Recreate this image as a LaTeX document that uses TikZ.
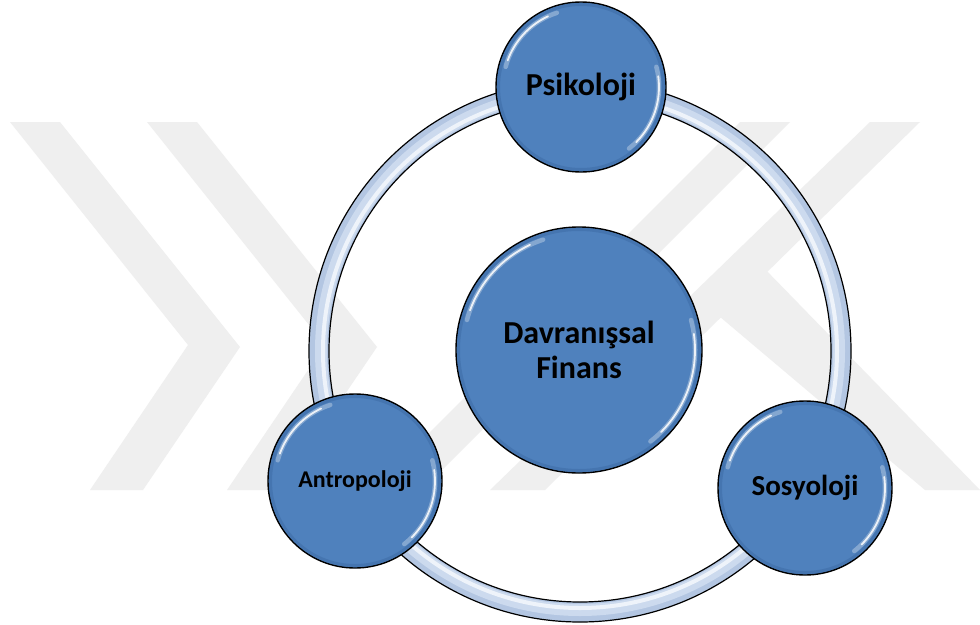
\documentclass[tikz,border=0pt]{standalone}
\usepackage{fontspec}
\setmainfont{Carlito}
\definecolor{ballblue}{HTML}{4F81BD}
\definecolor{ballrim}{HTML}{3E6CA6}
\definecolor{ringedge}{HTML}{B3C6E2}
\definecolor{ringmid}{HTML}{CCDAEE}
\definecolor{ringhi}{HTML}{EEF3FA}
\definecolor{wmgray}{HTML}{EFEFEF}
% soft highlight arcs on the inner rim of a bubble: #1 node, #2 radius (pt)
\newcommand\bubblegloss[2]{%
  \draw[ballrim, opacity=0.55, line width=3pt]
    (#1.center) circle[radius={(#2-2.5)*1pt}];
  \draw[white, opacity=0.30, line width=4.5pt, line cap=round]
    ([shift={(165:{(#2-7)*1pt})}]#1.center) arc[start angle=165, end angle=108, radius={(#2-7)*1pt}];
  \draw[white, opacity=0.85, line width=1.8pt, line cap=round]
    ([shift={(160:{(#2-7)*1pt})}]#1.center) arc[start angle=160, end angle=115, radius={(#2-7)*1pt}];
  \draw[white, opacity=0.30, line width=4.5pt, line cap=round]
    ([shift={(15:{(#2-7)*1pt})}]#1.center) arc[start angle=15, end angle=-52, radius={(#2-7)*1pt}];
  \draw[white, opacity=0.85, line width=1.8pt, line cap=round]
    ([shift={(8:{(#2-7)*1pt})}]#1.center) arc[start angle=8, end angle=-45, radius={(#2-7)*1pt}];
}
\begin{document}
\begin{tikzpicture}[x=1pt,y=-1pt,
  bubble/.style={circle, draw=black, line width=1.4pt, fill=ballblue,
    inner sep=0pt, align=center, text=black},
  outline/.style={draw=black, line width=1.2pt}]
\useasboundingbox[fill=white] (0,0) rectangle (980,624);

% faint background emblem
\fill[wmgray] (10,122) -- (60,122) -- (240,347) -- (143,490) -- (90,490) -- (188,345) -- cycle;
\fill[wmgray] (147,122) -- (197,122) -- (377,347) -- (280,490) -- (227,490) -- (325,345) -- cycle;
\fill[wmgray] (740,122) -- (790,122) -- (422,490) -- (372,490) -- cycle;
\fill[wmgray] (870,122) -- (920,122) -- (545,490) -- (490,490) -- cycle;
\fill[wmgray] (700,300) -- (762,266) -- (980,490) -- (925,490) -- cycle;

% connecting ring
\coordinate (hub) at (580,351);
\draw[ringedge, line width=20pt] (hub) circle[radius=261pt];
\draw[ringmid, line width=12pt] (hub) circle[radius=259pt];
\draw[ringhi, line width=4pt] (hub) circle[radius=257pt];
\draw[outline] (hub) circle[radius=271pt];
\draw[outline] (hub) circle[radius=251pt];

% bubbles
\node[bubble, minimum size=170pt, font=\bfseries\fontsize{32}{36}\selectfont]
  (psi) at (581,87) {Psikoloji};
\bubblegloss{psi}{85}
\node[bubble, minimum size=174pt, font=\bfseries\fontsize{24}{28}\selectfont]
  (ant) at (355,481) {Antropoloji};
\bubblegloss{ant}{87}
\node[bubble, minimum size=174pt, font=\bfseries\fontsize{29}{33}\selectfont]
  (sos) at (805,488) {Sosyoloji};
\bubblegloss{sos}{87}
\node[bubble, minimum size=246pt, font=\bfseries\fontsize{32}{35}\selectfont]
  (fin) at (579,350) {Davranışsal\\Finans};
\bubblegloss{fin}{123}
\end{tikzpicture}
\end{document}
